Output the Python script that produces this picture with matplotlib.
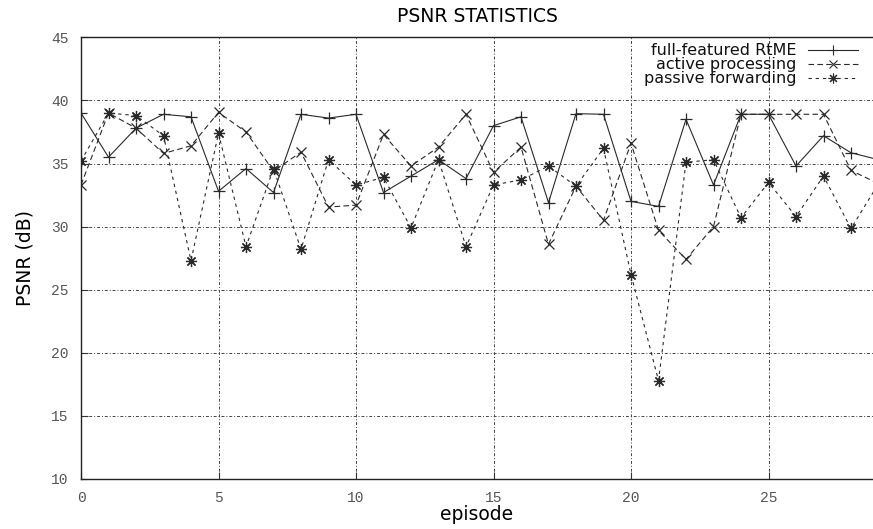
import matplotlib
matplotlib.use("Agg")
import matplotlib.pyplot as plt

# --- Data: PSNR per episode for the three forwarding schemes ---
episodes = list(range(30))

full_featured = [39.0, 35.5, 37.8, 38.9, 38.7, 32.8, 34.6, 32.7, 38.9, 38.6,
                 38.9, 32.7, 34.0, 35.3, 33.8, 38.0, 38.7, 31.9, 38.95, 38.9,
                 32.0, 31.6, 38.5, 33.3, 38.9, 38.9, 34.8, 37.2, 35.85, 35.3]

active_proc = [33.3, 39.0, 37.8, 35.8, 36.4, 39.05, 37.5, 34.4, 35.9, 31.55,
               31.7, 37.3, 34.8, 36.3, 38.9, 34.3, 36.3, 28.6, 33.2, 30.5,
               36.6, 29.7, 27.4, 30.0, 38.9, 38.9, 38.9, 38.9, 34.45, 33.4]

passive_fwd = [35.2, 39.0, 38.8, 37.2, 27.3, 37.4, 28.4, 34.6, 28.2, 35.3,
               33.3, 33.9, 29.9, 35.3, 28.4, 33.3, 33.7, 34.8, 33.2, 36.2,
               26.2, 17.8, 35.1, 35.3, 30.7, 33.5, 30.8, 34.0, 29.85, 33.4]

labels = ["full-featured RtME", "active processing", "passive forwarding"]
xticks = [0, 5, 10, 15, 20, 25]
yticks = [10, 15, 20, 25, 30, 35, 40, 45]

# --- Figure setup ---
plt.rcParams['font.family'] = 'DejaVu Sans'
fig = plt.figure(figsize=(8.73, 5.29), dpi=100)
ax = fig.add_axes([81 / 873, 1 - 479 / 529, 1 - 81 / 873, (479 - 37.3) / 529])

line_col = "#2a2a2a"
styles = [
    dict(linestyle="-", marker="+", markersize=8),
    dict(linestyle=(0, (5, 3)), marker="x", markersize=6.5),
    dict(linestyle=(0, (3, 3.5)), marker=(8, 2, 0), markersize=8),
]
series = [full_featured, active_proc, passive_fwd]

for values, label, st in zip(series, labels, styles):
    ax.plot(episodes, values, color=line_col, lw=0.8, markeredgewidth=0.9,
            label=label, **st)

ax.set_xlim(0, 28.8)
ax.set_ylim(10, 45)
ax.set_xticks(xticks)
ax.set_yticks(yticks)
ax.grid(True, color="#444444", linestyle=(0, (3, 2, 1, 2)), linewidth=0.7)

ax.tick_params(direction="in", length=5, width=0.8, colors="#333333",
               labelcolor="#555555")
ax.tick_params(axis="x", pad=9)
ax.tick_params(axis="y", pad=9)
for lab in ax.get_xticklabels() + ax.get_yticklabels():
    lab.set_family("Liberation Mono")
    lab.set_fontsize(10.5)

for side in ["left", "bottom", "top"]:
    ax.spines[side].set_linewidth(1.0)
    ax.spines[side].set_color("#222222")
ax.spines["right"].set_visible(False)

ax.set_title("PSNR STATISTICS", fontsize=13.5, pad=11)
ax.set_xlabel("episode", fontsize=13.5, labelpad=0)
ax.set_ylabel("PSNR (dB)", fontsize=13.5, labelpad=12)

# gnuplot-style key: right-aligned text with the sample line on its right
key_rows = [0.971, 0.939, 0.907]
for row, label, st in zip(key_rows, labels, styles):
    ax.text(0.903, row, label, transform=ax.transAxes, ha="right",
            va="center", fontsize=11.5, color="#111111")
    ax.plot([0.918, 0.981], [row, row], transform=ax.transAxes,
            color=line_col, lw=0.8, linestyle=st["linestyle"], clip_on=False)
    ax.plot([0.9495], [row], transform=ax.transAxes, color=line_col,
            marker=st["marker"], markersize=st["markersize"] - 1,
            markeredgewidth=0.8, clip_on=False)

fig.savefig("out.png", dpi=100)
